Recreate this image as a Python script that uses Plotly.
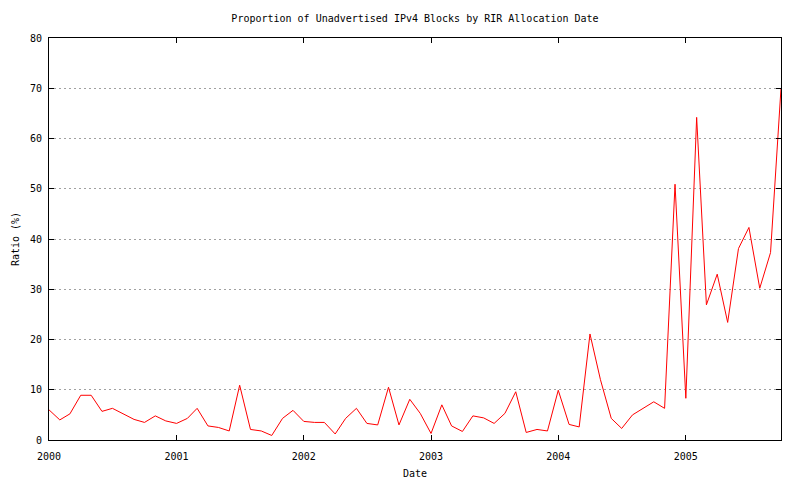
import plotly.graph_objects as go
import pandas as pd

dates = pd.date_range("2000-01-01", "2005-10-01", freq="MS").strftime("%Y-%m-%d").tolist()

ratio_2000 = [6.0, 4.0, 5.2, 8.9, 8.9, 5.7, 6.3, 5.2, 4.1, 3.5, 4.8, 3.8]
ratio_2001 = [3.3, 4.3, 6.3, 2.8, 2.5, 1.8, 10.9, 2.1, 1.8, 0.9, 4.3, 5.9]
ratio_2002 = [3.7, 3.5, 3.5, 1.2, 4.3, 6.3, 3.3, 3.0, 10.5, 3.0, 8.1, 5.3]
ratio_2003 = [1.3, 7.0, 2.8, 1.7, 4.8, 4.4, 3.3, 5.3, 9.6, 1.5, 2.1, 1.8]
ratio_2004 = [9.9, 3.1, 2.6, 21.1, 12.0, 4.3, 2.3, 5.0, 6.3, 7.6, 6.3, 50.9]
ratio_2005 = [8.3, 64.2, 26.9, 33.0, 23.4, 38.1, 42.3, 30.2, 37.3, 70.0]

ratios = ratio_2000 + ratio_2001 + ratio_2002 + ratio_2003 + ratio_2004 + ratio_2005

font_family = "DejaVu Sans Mono"

fig = go.Figure()
fig.add_trace(go.Scatter(
    x=dates, y=ratios, mode="lines",
    line=dict(color="#ff0000", width=1),
    showlegend=False,
))

fig.update_layout(
    width=800, height=480,
    margin=dict(l=49, r=19, t=38, b=40, autoexpand=False),
    paper_bgcolor="white", plot_bgcolor="white",
    font=dict(family=font_family, size=10, color="black"),
    title=dict(
        text="Proportion of Unadvertised IPv4 Blocks by RIR Allocation Date",
        x=(49 + 781) / 2 / 800, xanchor="center", xref="container",
        y=1 - 18 / 480, yanchor="middle", yref="container",
        font=dict(family=font_family, size=10, color="black"),
    ),
    xaxis=dict(
        type="date",
        range=["2000-01-01", "2005-10-01"],
        dtick="M12", tick0="2000-01-01", tickformat="%Y",
        ticks="inside", ticklen=5, tickcolor="black", tickwidth=1,
        showline=True, linecolor="black", linewidth=1, mirror="allticks",
        showgrid=False, zeroline=False, automargin=False,
        ticklabelstandoff=7,
        title=dict(text="Date", standoff=8, font=dict(family=font_family, size=10)),
        tickfont=dict(family=font_family, size=10),
    ),
    yaxis=dict(
        range=[0, 80], dtick=10, tick0=0,
        ticks="inside", ticklen=5, tickcolor="black", tickwidth=1,
        showline=True, linecolor="black", linewidth=1, mirror="allticks",
        showgrid=True, gridcolor="#a0a0a0", griddash="2px,3px", gridwidth=1,
        zeroline=False, automargin=False,
        ticklabelstandoff=4,
        title=dict(text="Ratio (%)", standoff=8, font=dict(family=font_family, size=10)),
        tickfont=dict(family=font_family, size=10),
    ),
)

fig.write_html("out.html", post_script="document.body.style.margin='0';",
               config={"displayModeBar": False})
